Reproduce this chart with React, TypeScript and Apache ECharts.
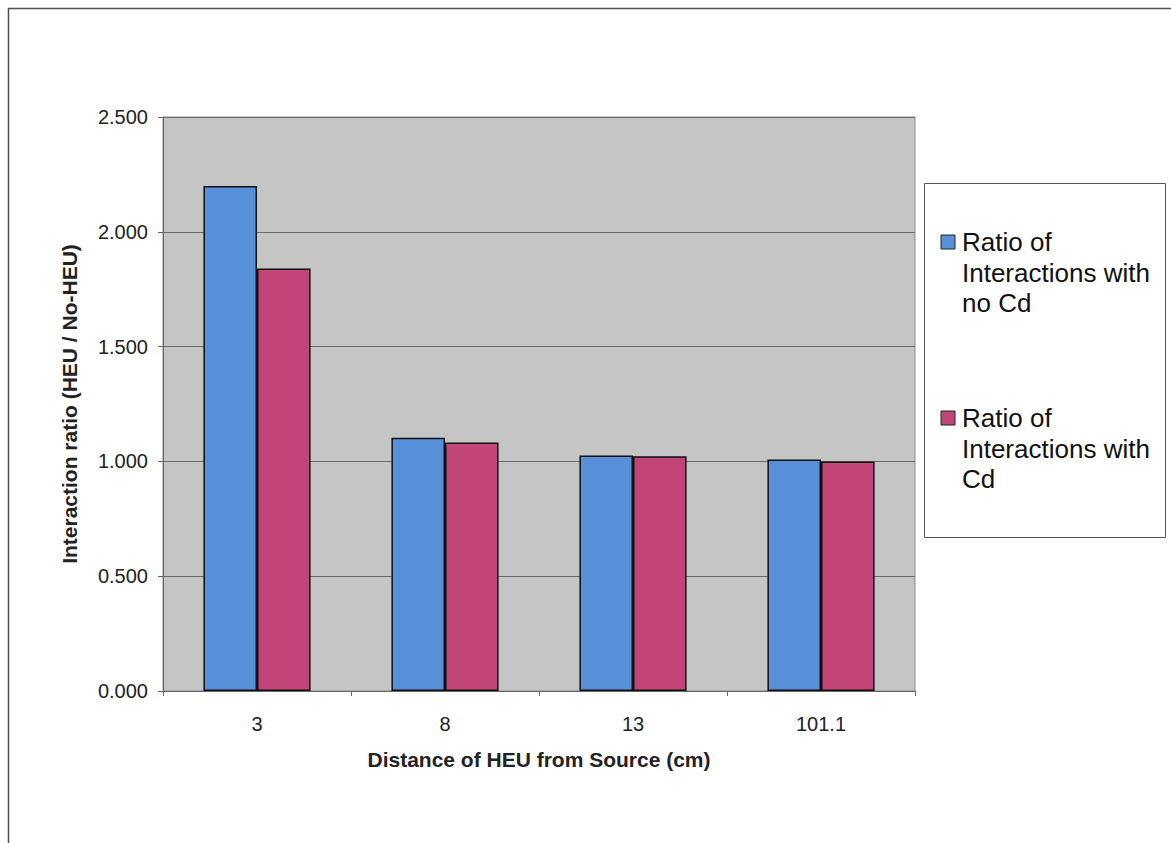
import React, { useEffect, useRef } from "react";
import * as echarts from "echarts";

const categories = ["3", "8", "13", "101.1"];
const noCdValues = [2.2, 1.103, 1.026, 1.008];
const cdValues = [1.84, 1.082, 1.022, 1.0];
const seriesNames = ["Ratio of Interactions with no Cd", "Ratio of Interactions with Cd"];
const legendLines = [
  ["Ratio of", "Interactions with", "no Cd"],
  ["Ratio of", "Interactions with", "Cd"],
];
const colors = ["#578fd8", "#c2457a"];
const FONT = "Liberation Sans, Arial, sans-serif";

export default function App() {
  const ref = useRef<HTMLDivElement>(null);
  useEffect(() => {
    if (!ref.current) return;
    const chart = echarts.init(ref.current, null, { renderer: "svg" });
    const legendGraphics: any[] = [];
    const itemTops = [242, 418];
    legendLines.forEach((lines, i) => {
      legendGraphics.push({
        type: "rect",
        shape: { x: 941, y: itemTops[i] - 7, width: 14, height: 14 },
        style: { fill: colors[i], stroke: "#222", lineWidth: 1 },
      });
      lines.forEach((ln, j) => {
        legendGraphics.push({
          type: "text",
          x: 962,
          y: itemTops[i] + j * 30.5,
          style: {
            text: ln,
            font: `26px ${FONT}`,
            fill: "#111",
            verticalAlign: "middle",
          },
        });
      });
    });
    chart.setOption({
      animation: false,
      backgroundColor: "#ffffff",
      graphic: [
        {
          type: "rect",
          shape: { x: 8.5, y: 8.5, width: 1170, height: 850 },
          style: { fill: "none", stroke: "#4a524a", lineWidth: 1.5 },
          z: 100,
        },
        {
          type: "rect",
          shape: { x: 924.5, y: 183.5, width: 241, height: 354 },
          style: { fill: "#ffffff", stroke: "#555", lineWidth: 1 },
        },
        ...legendGraphics,
      ],
      grid: {
        left: 163,
        top: 117,
        width: 752,
        height: 574,
        show: true,
        backgroundColor: "#c5c5c5",
        borderColor: "#8a8a8a",
        borderWidth: 1,
      },
      legend: { show: false },
      xAxis: {
        type: "category",
        data: categories,
        name: "Distance of HEU from Source (cm)",
        nameLocation: "middle",
        nameGap: 58,
        nameTextStyle: { fontFamily: FONT, fontSize: 21, fontWeight: "bold", color: "#222" },
        axisLine: { lineStyle: { color: "#666", width: 1 } },
        axisTick: { show: true, length: 5, lineStyle: { color: "#666" } },
        axisLabel: { fontFamily: FONT, fontSize: 20, color: "#222", margin: 23 },
      },
      yAxis: {
        type: "value",
        min: 0,
        max: 2.5,
        interval: 0.5,
        name: "Interaction ratio (HEU / No-HEU)",
        nameLocation: "middle",
        nameGap: 83,
        nameTextStyle: { fontFamily: FONT, fontSize: 21, fontWeight: "bold", color: "#222" },
        axisLine: { show: true, lineStyle: { color: "#666", width: 1 } },
        axisTick: { show: true, length: 5, lineStyle: { color: "#666" } },
        axisLabel: {
          fontFamily: FONT,
          fontSize: 20,
          color: "#222",
          margin: 15,
          formatter: (v: number) => v.toFixed(3),
        },
        splitLine: { show: true, lineStyle: { color: "#6a6a6a", width: 1 } },
      },
      series: [
        {
          name: seriesNames[0],
          type: "bar",
          data: noCdValues,
          barGap: "0%",
          barCategoryGap: "43%",
          itemStyle: { color: colors[0], borderColor: "#111", borderWidth: 1.5 },
        },
        {
          name: seriesNames[1],
          type: "bar",
          data: cdValues,
          barGap: "0%",
          barCategoryGap: "43%",
          itemStyle: { color: colors[1], borderColor: "#111", borderWidth: 1.5 },
        },
      ],
    });
    return () => chart.dispose();
  }, []);
  return (
    <div
      ref={ref}
      style={{ position: "fixed", left: 0, top: 0, width: 1171, height: 843 }}
    />
  );
}
